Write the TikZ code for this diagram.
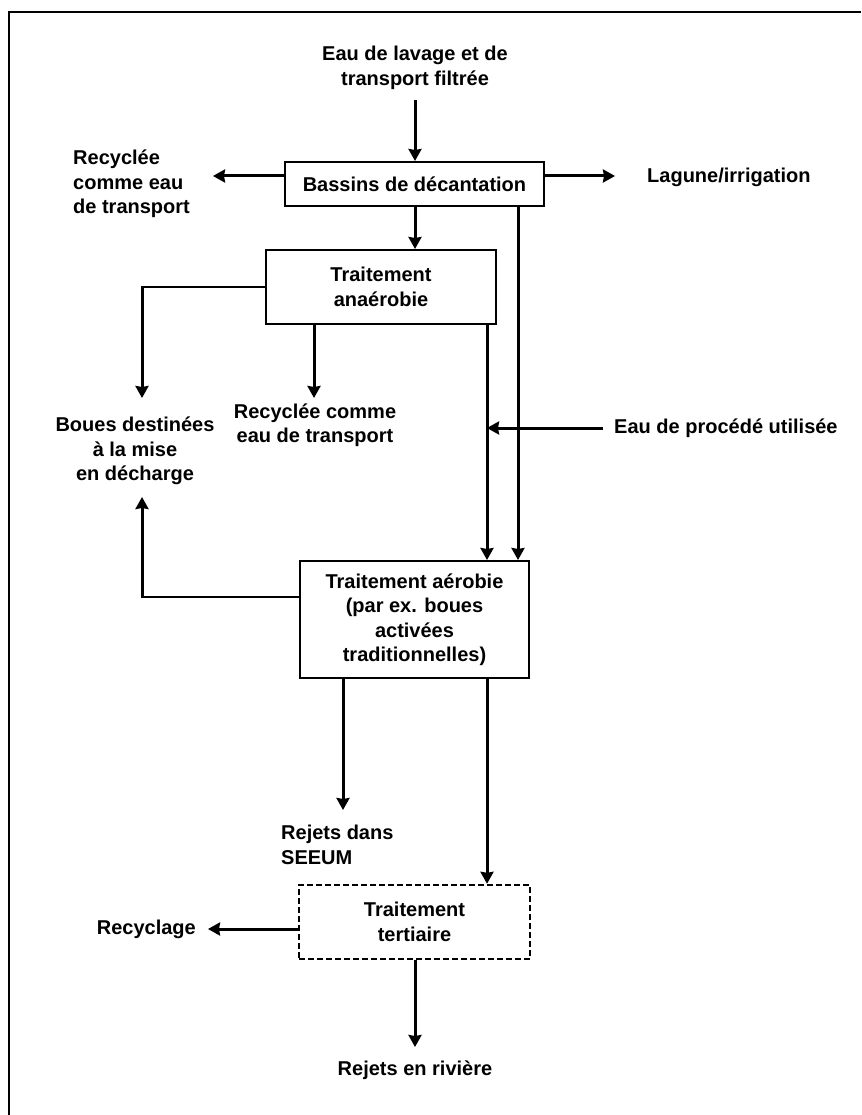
\documentclass[tikz,border=0pt]{standalone}
\usepackage{fontspec}
\setmainfont{Liberation Sans}
\usetikzlibrary{arrows.meta}
\tikzset{
  txt/.style={font=\bfseries\fontsize{20}{24.5}\selectfont, inner sep=0pt, align=center},
  txtl/.style={font=\bfseries\fontsize{20}{24.5}\selectfont, inner sep=0pt, align=left},
  procbox/.style={draw, line width=2pt, inner sep=0pt, align=center,
    font=\bfseries\fontsize{20}{24.5}\selectfont},
  optbox/.style={procbox, line width=2.4pt, dash pattern=on 6pt off 3pt},
  arr/.style={line width=3pt, -{Stealth[length=12pt,width=13pt,inset=1pt]}},
  ln/.style={line width=2.2pt},
  thin/.style={line width=1.4pt},
  frame/.style={line width=2.6pt}
}
\begin{document}
\begin{tikzpicture}[x=1pt,y=-1pt]
\useasboundingbox (0,0) rectangle (861,1115);
\draw[frame] (861,12) -- (9,12) -- (9,1115);

% boxes
\node[procbox, minimum width=259pt, minimum height=44pt] (bassins) at (414.5,184) {Bassins de décantation};
\node[procbox, minimum width=230pt, minimum height=74pt] (anaer) at (381,287) {Traitement\\anaérobie};
\node[procbox, minimum width=229pt, minimum height=117pt] (aer) at (414.5,619.5) {Traitement aérobie\\(par ex. boues\\activées\\traditionnelles)};
\node[optbox, minimum width=231pt, minimum height=74pt] (tert) at (414.5,922) {Traitement\\tertiaire};

% labels
\node[txt] (top) at (415,68) {Eau de lavage et de\\transport filtrée};
\node[txtl, anchor=west] (recyc1) at (73,184) {Recyclée\\comme eau\\de transport};
\node[txtl, anchor=west] (lagune) at (647,177) {Lagune/irrigation};
\node[txt] (boues) at (135,451) {Boues destinées\\à la mise\\en décharge};
\node[txt] (recyc2) at (315,425) {Recyclée comme\\eau de transport};
\node[txtl, anchor=west] (eauproc) at (614,428) {Eau de procédé utilisée};
\node[txtl, anchor=west] (seeum) at (281,845) {Rejets dans\\SEEUM};
\node[txtl, anchor=east] (recyclage) at (196,929) {Recyclage};
\node[txt] (riviere) at (415,1070) {Rejets en rivière};

% free ends
\coordinate (c1) at (415,100);
\coordinate (c2) at (213,176);
\coordinate (c3) at (615,176);
\coordinate (c4) at (142,287);
\coordinate (c5) at (142,398);
\coordinate (c6) at (314,398);
\coordinate (c7) at (487,428);
\coordinate (c8) at (603,428);
\coordinate (c9) at (518,562);
\coordinate (c10) at (142,597);
\coordinate (c11) at (142,497);
\coordinate (c12) at (343,810);
\coordinate (c13) at (208,929);
\coordinate (c14) at (415,1047);

% connectors
\draw[arr] (c1) -- (c1 |- bassins.north);
\draw[arr] (bassins.west |- c2) -- (c2);
\draw[arr] (bassins.east |- c3) -- (c3);
\draw[arr] (bassins.south -| c1) -- (anaer.north -| c1);
\draw[thin] (anaer.west |- c4) -- (c4);
\draw[arr] ([yshift=0.7pt]c4) -- (c5);
\draw[arr] (anaer.south -| c6) -- (c6);
\draw[arr] (anaer.south -| c7) -- (aer.north -| c7);
\draw[arr] (bassins.south -| c9) -- (aer.north -| c9);
\draw[arr] (c8) -- (c7);
\draw[ln] (aer.west |- c10) -- (c10);
\draw[arr] ([yshift=-1.1pt]c10) -- (c11);
\draw[arr] (aer.south -| c12) -- (c12);
\draw[arr] (aer.south -| c7) -- (tert.north -| c7);
\draw[arr] (tert.west |- c13) -- (c13);
\draw[arr] (tert.south -| c14) -- (c14);
\end{tikzpicture}
\end{document}
